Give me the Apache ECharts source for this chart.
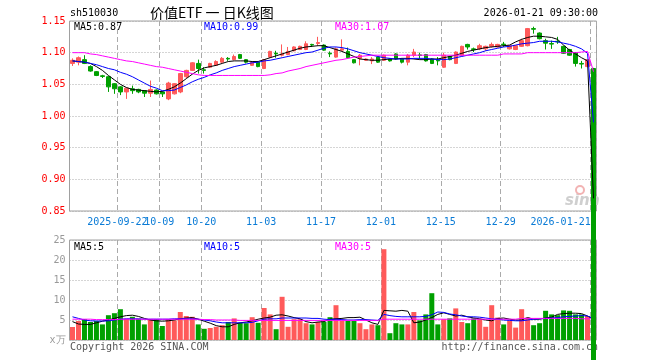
<!DOCTYPE html>
<html><head><meta charset="utf-8">
<script src="https://cdn.jsdelivr.net/npm/echarts@6/dist/echarts.min.js"></script>
<style>html,body{margin:0;padding:0;background:#fff}#c{width:660px;height:360px}</style>
</head><body><div id="c"></div>
<script>
const dates = [
'2025-09-10','2025-09-11','2025-09-12','2025-09-15','2025-09-16','2025-09-17','2025-09-18','2025-09-19',
'2025-09-22','2025-09-23','2025-09-24','2025-09-25','2025-09-26','2025-09-29','2025-09-30',
'2025-10-09','2025-10-10','2025-10-13','2025-10-14','2025-10-15','2025-10-16','2025-10-17',
'2025-10-20','2025-10-21','2025-10-22','2025-10-23','2025-10-24','2025-10-27','2025-10-28','2025-10-29','2025-10-30','2025-10-31',
'2025-11-03','2025-11-04','2025-11-05','2025-11-06','2025-11-07','2025-11-10','2025-11-11','2025-11-12','2025-11-13','2025-11-14',
'2025-11-17','2025-11-18','2025-11-19','2025-11-20','2025-11-21','2025-11-24','2025-11-25','2025-11-26','2025-11-27','2025-11-28',
'2025-12-01','2025-12-02','2025-12-03','2025-12-04','2025-12-05','2025-12-08','2025-12-09','2025-12-10','2025-12-11','2025-12-12',
'2025-12-15','2025-12-16','2025-12-17','2025-12-18','2025-12-19','2025-12-22','2025-12-23','2025-12-24','2025-12-25','2025-12-26',
'2025-12-29','2025-12-30','2025-12-31',
'2026-01-05','2026-01-06','2026-01-07','2026-01-08','2026-01-09','2026-01-12','2026-01-13','2026-01-14','2026-01-15','2026-01-16','2026-01-19','2026-01-20','2026-01-21'];

const openP  = [1.083,1.085,1.089,1.078,1.070,1.0635,1.062,1.051,1.046,1.038,1.043,1.042,1.040,1.036,1.041,1.038,1.027,1.035,1.038,1.062,1.072,1.083,1.073,1.077,1.080,1.085,1.091,1.089,1.097,1.089,
1.080,1.085,1.075,1.093,1.099,1.096,1.097,1.103,1.105,1.105,1.113,1.1145,1.112,1.099,1.093,1.104,1.102,1.089,1.091,1.088,1.087,1.093,1.088,1.090,1.098,1.090,1.085,1.096,1.0965,1.097,
1.090,1.088,1.077,1.094,1.083,1.096,1.113,1.106,1.106,1.106,1.110,1.109,1.1135,1.106,1.105,1.110,1.111,1.138,1.131,1.119,1.1145,1.118,1.110,1.105,1.100,1.083,1.078,1.075];
const closeP = [1.088,1.092,1.083,1.071,1.064,1.0625,1.046,1.043,1.038,1.044,1.040,1.038,1.036,1.042,1.035,1.035,1.052,1.051,1.067,1.072,1.084,1.075,1.072,1.083,1.086,1.091,1.090,1.094,1.091,1.085,
1.085,1.078,1.089,1.102,1.098,1.098,1.102,1.109,1.110,1.114,1.112,1.116,1.104,1.098,1.106,1.106,1.092,1.084,1.096,1.090,1.090,1.085,1.096,1.087,1.090,1.085,1.096,1.101,1.0955,1.087,
1.083,1.087,1.096,1.089,1.101,1.110,1.109,1.105,1.111,1.110,1.113,1.113,1.1125,1.111,1.111,1.119,1.138,1.137,1.122,1.115,1.1135,1.117,1.099,1.096,1.083,1.082,1.089,0.000];
const lowP   = [1.079,1.080,1.082,1.070,1.063,1.060,1.038,1.035,1.033,1.027,1.035,1.036,1.030,1.030,1.034,1.030,1.025,1.034,1.036,1.060,1.071,1.067,1.067,1.076,1.079,1.084,1.087,1.088,1.090,1.083,
1.079,1.077,1.074,1.092,1.092,1.094,1.096,1.102,1.104,1.104,1.109,1.111,1.103,1.093,1.092,1.103,1.091,1.083,1.080,1.087,1.082,1.084,1.087,1.086,1.089,1.083,1.080,1.093,1.090,1.086,
1.082,1.080,1.076,1.088,1.082,1.095,1.105,1.101,1.104,1.103,1.108,1.108,1.109,1.105,1.104,1.109,1.110,1.130,1.121,1.105,1.106,1.114,1.098,1.095,1.078,1.075,1.077,0.000];
const highP  = [1.091,1.094,1.096,1.080,1.071,1.065,1.063,1.052,1.047,1.045,1.048,1.043,1.041,1.056,1.042,1.039,1.054,1.052,1.068,1.073,1.085,1.089,1.077,1.084,1.088,1.093,1.093,1.097,1.098,1.090,
1.086,1.086,1.090,1.103,1.103,1.113,1.109,1.110,1.111,1.118,1.114,1.125,1.113,1.102,1.108,1.121,1.108,1.090,1.098,1.091,1.093,1.094,1.097,1.091,1.099,1.091,1.098,1.106,1.100,1.098,
1.091,1.093,1.100,1.095,1.102,1.111,1.114,1.108,1.114,1.111,1.116,1.114,1.117,1.112,1.112,1.122,1.139,1.141,1.132,1.122,1.119,1.125,1.111,1.106,1.101,1.087,1.090,1.076];

const volume = [3.25,4.75,5.2,4.5,4.75,3.9,6.2,6.7,7.7,5.3,5.8,5.3,3.9,5.2,5.2,3.5,5.2,4.9,7.0,6.0,5.8,3.9,2.8,3.0,3.3,3.7,4.5,5.4,4.3,4.2,
5.7,4.3,8.0,6.4,2.7,10.8,3.3,5.2,5.2,4.2,3.9,4.5,4.5,5.7,8.7,4.75,4.75,4.75,4.2,2.7,3.9,3.7,22.7,1.7,4.2,3.9,3.9,7.0,4.9,6.4,
11.7,3.9,5.2,5.4,7.9,4.5,4.2,5.4,5.2,3.3,8.7,5.6,3.9,4.9,3.1,7.7,5.6,3.7,4.2,7.3,6.4,6.2,7.4,7.3,6.4,6.4,6.0,200];

const ma5  = [1.087,1.086,1.085,1.083,1.078,1.072,1.064,1.057,1.050,1.045,1.042,1.041,1.040,1.039,1.038,1.039,1.042,1.046,1.052,1.059,1.066,1.072,1.076,1.078,1.080,1.083,1.086,1.087,1.087,1.087,
1.086,1.086,1.089,1.092,1.095,1.098,1.101,1.104,1.107,1.109,1.110,1.111,1.111,1.108,1.105,1.102,1.098,1.094,1.090,1.089,1.088,1.088,1.089,1.090,1.090,1.091,1.091,1.090,1.089,1.089,
1.090,1.090,1.092,1.094,1.096,1.099,1.102,1.104,1.106,1.108,1.109,1.110,1.111,1.112,1.117,1.121,1.124,1.126,1.126,1.125,1.124,1.121,1.112,1.104,1.098,1.092,1.087,0.87];
const ma10 = [1.087,1.086,1.085,1.083,1.081,1.078,1.075,1.073,1.069,1.066,1.062,1.057,1.052,1.047,1.044,1.040,1.040,1.041,1.045,1.049,1.054,1.058,1.061,1.065,1.068,1.072,1.075,1.078,1.080,1.082,
1.084,1.085,1.087,1.088,1.090,1.092,1.094,1.096,1.098,1.100,1.101,1.104,1.107,1.109,1.109,1.108,1.106,1.103,1.100,1.098,1.096,1.094,1.092,1.091,1.090,1.090,1.090,1.091,1.091,1.091,
1.090,1.089,1.089,1.090,1.092,1.094,1.096,1.098,1.100,1.103,1.105,1.107,1.109,1.110,1.112,1.114,1.115,1.116,1.118,1.118,1.118,1.117,1.115,1.113,1.110,1.106,1.099,0.99];
const ma30 = [1.100,1.100,1.100,1.098,1.097,1.095,1.093,1.091,1.089,1.087,1.086,1.084,1.082,1.080,1.078,1.077,1.075,1.073,1.071,1.069,1.067,1.065,1.064,1.064,1.064,1.064,1.064,1.064,1.064,1.064,
1.064,1.064,1.064,1.065,1.067,1.068,1.071,1.073,1.075,1.078,1.080,1.082,1.084,1.086,1.088,1.089,1.091,1.093,1.094,1.095,1.096,1.096,1.096,1.096,1.096,1.096,1.096,1.096,1.096,1.096,
1.096,1.096,1.096,1.096,1.096,1.096,1.096,1.096,1.096,1.096,1.096,1.096,1.098,1.098,1.098,1.098,1.100,1.100,1.100,1.100,1.100,1.100,1.100,1.100,1.100,1.101,1.102,1.07];

const vma5  = [4.6,4.0,3.9,3.9,4.3,4.7,5.0,5.4,5.8,6.1,6.2,5.9,5.4,5.0,4.8,4.7,4.8,5.0,5.3,5.5,5.6,5.2,4.7,4.2,3.6,3.3,3.3,3.9,4.3,4.5,
4.8,5.2,5.5,5.7,6.2,6.3,6.0,5.6,5.3,4.6,4.3,4.5,4.6,5.2,5.3,5.4,5.6,5.6,5.7,5.0,4.3,3.9,7.4,7.3,7.2,7.4,7.2,4.3,4.5,5.0,
5.6,6.4,6.8,6.4,6.0,6.2,5.8,5.5,5.3,5.0,4.8,5.4,5.5,5.2,5.0,5.0,5.6,5.2,5.2,5.5,5.7,6.4,6.6,6.7,6.7,6.6,6.0,5.2];
const vma10 = [5.8,5.4,5.0,4.8,4.75,4.75,4.8,5.0,5.2,5.3,5.3,5.3,5.2,5.2,5.2,5.2,5.2,5.3,5.3,5.3,5.3,5.2,5.0,4.8,4.5,4.3,4.3,4.3,4.3,4.3,
4.4,4.8,5.2,5.3,5.3,5.5,5.5,5.5,5.5,5.5,5.4,5.4,5.2,5.1,5.2,5.1,5.0,5.0,5.1,5.1,5.0,4.9,6.4,6.1,5.9,5.8,5.8,5.8,5.8,5.9,
6.3,7.0,6.9,6.5,6.3,6.0,5.8,5.8,5.7,5.5,5.3,5.2,5.0,4.9,4.8,4.8,5.0,5.2,5.3,5.4,5.5,5.6,5.8,5.9,6.0,6.1,6.0,5.3];
const vma30 = [5.2,5.2,5.2,5.2,5.1,5.1,5.1,5.1,5.2,5.2,5.2,5.2,5.2,5.2,5.2,5.2,5.2,5.2,5.2,5.2,5.2,5.2,5.1,5.1,5.0,5.0,5.0,5.0,4.9,4.9,
4.9,4.9,4.9,4.9,4.9,4.9,4.9,4.9,4.9,4.9,4.9,4.9,4.9,4.9,4.9,4.9,4.9,4.9,4.9,4.9,4.9,4.9,5.2,5.2,5.2,5.2,5.2,5.2,5.2,5.2,
5.2,5.2,5.2,5.2,5.2,5.2,5.2,5.2,5.2,5.2,5.2,5.2,5.2,5.2,5.2,5.4,5.4,5.4,5.4,5.4,5.4,5.4,5.4,5.4,5.4,5.3,5.3,5.3];

const xTickIdx  = [8,15,22,32,42,52,62,72,87];
const xTickText = ['2025-09-22','10-09','10-20','11-03','11-17','12-01','12-15','12-29','2026-01-21'];

const stockCode = 'sh510030';
const titleText = '价值ETF 一 日K线图';
const stampText = '2026-01-21 09:30:00';

const UP = '#ff5a5a', DOWN = '#00a000';
const MONO = 'DejaVu Sans Mono';
const LABEL_BLUE = '#0a7bd6';
const last = dates.length - 1;

const candleData = dates.map((d, i) => [openP[i], closeP[i], lowP[i], highP[i]]);
const volData = volume.map((v, i) => ({value: v, itemStyle: {color: closeP[i] >= openP[i] ? UP : DOWN}}));

const hLine = {show: true, lineStyle: {color: '#aaa', type: [1, 2], width: 1}};
const vLine = {show: true, interval: (idx) => xTickIdx.includes(idx), lineStyle: {color: '#aaa', type: [5, 3], width: 1}};

// labels split over two bottom axes so overlapping neighbours are both kept
function labelAxis(pick) {
  return {type: 'category', gridIndex: 0, data: dates, boundaryGap: true, position: 'bottom', offset: 0,
    axisLine: {show: false}, axisTick: {show: false}, splitLine: {show: false},
    axisLabel: {show: true, hideOverlap: false,
      interval: (idx) => { const k = xTickIdx.indexOf(idx); return k >= 0 && pick(k); },
      formatter: (v, idx) => {
        const k = xTickIdx.indexOf(idx);
        if (k < 0) return '';
        return k === xTickIdx.length - 1 ? '{e|' + xTickText[k] + '}' : xTickText[k];
      },
      color: LABEL_BLUE, fontFamily: MONO, fontSize: 10, margin: 6, padding: [0, 6, 0, 0],
      rich: {e: {width: 120, align: 'left', color: LABEL_BLUE, fontFamily: MONO, fontSize: 10}}}};
}

function txt(text, x, y, color, opts) {
  opts = opts || {};
  return {type: 'text', z: 1, silent: true, style: Object.assign({
    text: text, x: x, y: y, fill: color,
    font: (opts.font || ('10px "' + MONO + '"')),
    align: opts.align || 'left', textAlign: opts.align || 'left',
    verticalAlign: 'middle', textVerticalAlign: 'middle'
  }, opts.style || {})};
}

const chart = echarts.init(document.getElementById('c'), null, {renderer: 'canvas'});
chart.setOption({
  animation: false,
  backgroundColor: '#fff',
  grid: [
    {left: 69.5, right: 63.5, top: 21, height: 190, show: true, borderColor: '#a0a0a0', borderWidth: 1},
    {left: 69.5, right: 63.5, top: 240, height: 100, show: true, borderColor: '#a0a0a0', borderWidth: 1}
  ],
  xAxis: [
    {type: 'category', gridIndex: 0, data: dates, boundaryGap: true, position: 'bottom',
     axisLine: {show: false}, axisTick: {show: false}, splitLine: vLine, axisLabel: {show: false}},
    {type: 'category', gridIndex: 1, data: dates, boundaryGap: true, position: 'bottom',
     axisLine: {show: false}, axisTick: {show: false}, axisLabel: {show: false}, splitLine: vLine},
    labelAxis((k) => k % 2 === 0),
    labelAxis((k) => k % 2 === 1)
  ],
  yAxis: [
    {type: 'value', gridIndex: 0, min: 0.85, max: 1.15, interval: 0.05,
     axisLine: {show: false}, axisTick: {show: false}, splitLine: hLine,
     axisLabel: {color: '#ff0000', fontFamily: MONO, fontSize: 10, margin: 4, formatter: (v) => v.toFixed(2)}},
    {type: 'value', gridIndex: 1, min: 0, max: 25, interval: 5,
     axisLine: {show: false}, axisTick: {show: false}, splitLine: hLine,
     axisLabel: {color: '#999', fontFamily: MONO, fontSize: 10, margin: 4, formatter: (v) => v === 0 ? 'x万' : String(v)}}
  ],
  series: [
    {type: 'candlestick', xAxisIndex: 0, yAxisIndex: 0, data: candleData, barWidth: 4, clip: false, z: 5,
     itemStyle: {color: UP, color0: DOWN, borderColor: UP, borderColor0: DOWN, borderWidth: 1}},
    {type: 'line', xAxisIndex: 0, yAxisIndex: 0, data: ma5, symbol: 'none', z: 6, lineStyle: {color: '#000', width: 1}},
    {type: 'line', xAxisIndex: 0, yAxisIndex: 0, data: ma10, symbol: 'none', z: 6, lineStyle: {color: '#0000ff', width: 1}},
    {type: 'line', xAxisIndex: 0, yAxisIndex: 0, data: ma30, symbol: 'none', z: 6, lineStyle: {color: '#ff00ff', width: 1}},
    {type: 'bar', xAxisIndex: 1, yAxisIndex: 1, data: volData, barWidth: 5, z: 3},
    {type: 'line', xAxisIndex: 1, yAxisIndex: 1, data: vma5, symbol: 'none', z: 4, lineStyle: {color: '#000', width: 1}},
    {type: 'line', xAxisIndex: 1, yAxisIndex: 1, data: vma10, symbol: 'none', z: 4, lineStyle: {color: '#0000ff', width: 1}},
    {type: 'line', xAxisIndex: 1, yAxisIndex: 1, data: vma30, symbol: 'none', z: 4, lineStyle: {color: '#ff00ff', width: 1}}
  ],
  graphic: [
    txt(stockCode, 70, 13, '#000'),
    txt(titleText, 150, 13, '#000', {font: '14px "Noto Sans CJK SC"'}),
    txt(stampText, 598, 13, '#000', {align: 'right'}),
    txt('MA5:' + ma5[last].toFixed(2), 74, 27, '#000'),
    txt('MA10:' + ma10[last].toFixed(2), 204, 27, '#0000ff'),
    txt('MA30:' + ma30[last].toFixed(2), 335, 27, '#ff00ff'),
    txt('MA5:' + Math.round(vma5[last]), 74, 247, '#000'),
    txt('MA10:' + Math.round(vma10[last]), 204, 247, '#0000ff'),
    txt('MA30:' + Math.round(vma30[last]), 335, 247, '#ff00ff'),
    txt('Copyright 2026 SINA.COM', 70, 347, '#555'),
    txt('http://finance.sina.com.cn', 598, 347, '#555', {align: 'right'}),
    txt('sina', 565, 201, '#cfcfcf', {font: 'italic bold 15px "DejaVu Sans"'}),
    {type: 'circle', z: 1, silent: true, shape: {cx: 580, cy: 190, r: 4}, style: {fill: 'none', stroke: '#f2b3b3', lineWidth: 2}}
  ]
});
</script></body></html>
